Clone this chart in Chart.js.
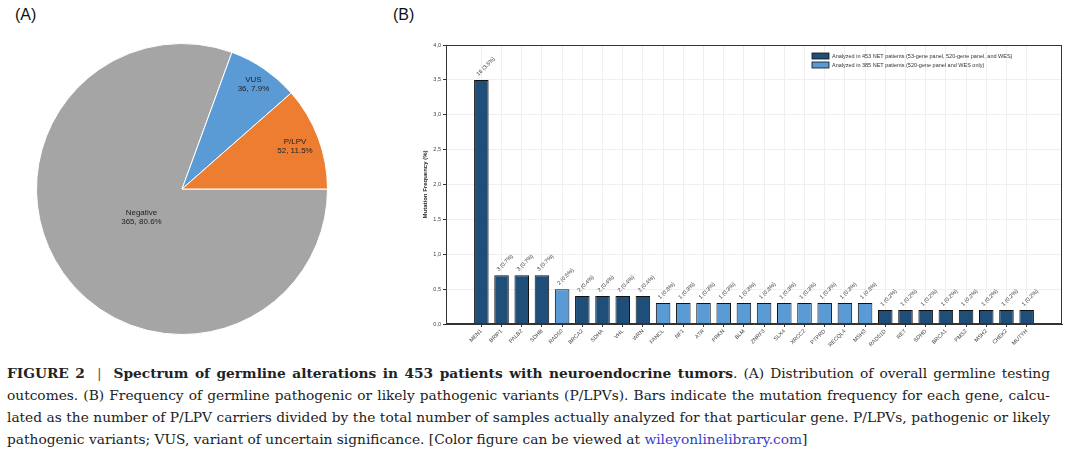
<!DOCTYPE html>
<html>
<head>
<meta charset="utf-8">
<script src="https://cdn.jsdelivr.net/npm/chart.js@4.4.1/dist/chart.umd.min.js"></script>
<style>
  body { margin: 0; width: 1080px; height: 463px; background: #fff; position: relative; overflow: hidden;
         font-family: Arial, "Liberation Sans", sans-serif; }
  .panel-label { position: absolute; font-size: 16px; color: #111; }
  #pieWrap { position: absolute; left: 36px; top: 43px; width: 292px; height: 292px; }
  #barWrap { position: absolute; left: 400px; top: 30px; width: 680px; height: 320px; }
  #caption { position: absolute; left: 7px; top: 362px; width: 1043px; color: #222;
             font-family: "DejaVu Serif", serif; font-size: 13.75px; line-height: 22px; }
  #caption .line { display: block; white-space: nowrap; text-align: justify; text-align-last: justify; }
  #caption .line.last { text-align: left; text-align-last: left; }
  #caption .pipe { display: inline-block; margin: 0 12px; font-weight: normal; color: #555; }
  #caption .link { color: #3340c8; }
</style>
</head>
<body>
<div class="panel-label" style="left:15px; top:6px;">(A)</div>
<div class="panel-label" style="left:393px; top:6px;">(B)</div>

<div id="pieWrap"><canvas id="pieChart" width="292" height="292"></canvas></div>
<div id="barWrap"><canvas id="barChart" width="680" height="320"></canvas></div>

<div id="caption">
  <span class="line"><b>FIGURE 2</b><span class="pipe">|</span><b>Spectrum of germline alterations in 453 patients with neuroendocrine tumors</b>. (A) Distribution of overall germline testing</span>
  <span class="line">outcomes. (B) Frequency of germline pathogenic or likely pathogenic variants (P/LPVs). Bars indicate the mutation frequency for each gene, calcu-</span>
  <span class="line">lated as the number of P/LPV carriers divided by the total number of samples actually analyzed for that particular gene. P/LPVs, pathogenic or likely</span>
  <span class="line last">pathogenic variants; VUS, variant of uncertain significance. [Color figure can be viewed at <span class="link">wileyonlinelibrary.com</span>]</span>
</div>

<script>
// (A) germline testing outcomes
const outcomeLabels = ['Negative', 'VUS', 'P/LPV'];
const outcomeCounts = [365, 36, 52];
const outcomePercents = [80.6, 7.9, 11.5];

// (B) P/LPV frequency per gene
const genes = ['MEN1', 'BRIP1', 'PALB2', 'SDHB', 'RAD50', 'BRCA2', 'SDHA', 'VHL', 'WRN',
  'FANCL', 'NF1', 'ATR', 'PRKN', 'BLM', 'ZNRF3', 'SLX4', 'XRCC2', 'PTPRD', 'RECQL4', 'MSH3',
  'RAD51D', 'RET', 'SDHD', 'BRCA1', 'PMS2', 'MSH2', 'CHEK2', 'MUTYH'];
const carrierCounts = [16, 3, 3, 3, 2, 2, 2, 2, 2,
  1, 1, 1, 1, 1, 1, 1, 1, 1, 1, 1,
  1, 1, 1, 1, 1, 1, 1, 1];
const frequencies = [3.5, 0.7, 0.7, 0.7, 0.5, 0.4, 0.4, 0.4, 0.4,
  0.3, 0.3, 0.3, 0.3, 0.3, 0.3, 0.3, 0.3, 0.3, 0.3, 0.3,
  0.2, 0.2, 0.2, 0.2, 0.2, 0.2, 0.2, 0.2];
const cohortSize = [453, 453, 453, 453, 385, 453, 453, 453, 453,
  385, 385, 385, 385, 385, 385, 385, 385, 385, 385, 385,
  453, 453, 453, 453, 453, 453, 453, 453];
const cohortLegend = [
  'Analyzed in 453 NET patients (53-gene panel, 520-gene panel, and WES)',
  'Analyzed in 385 NET patients (520-gene panel and WES only)'
];

const yMin = 0;
const yMax = 4;
const yStep = 0.5;

const pieColors = ['#a5a5a5', '#5b9bd5', '#ed7d31'];
const pieLabelRadius = [0.34, 0.87, 0.83];
const darkBlue = '#1f4e79';
const lightBlue = '#5b9bd5';

Chart.defaults.font.family = 'Arial, "Liberation Sans", sans-serif';

const pieLabels = {
  id: 'pieLabels',
  afterDatasetsDraw(chart) {
    const ctx = chart.ctx;
    const arcs = chart.getDatasetMeta(0).data;
    ctx.save();
    ctx.font = '8px Arial, "Liberation Sans", sans-serif';
    ctx.fillStyle = '#222';
    ctx.textAlign = 'center';
    ctx.textBaseline = 'middle';
    arcs.forEach((arc, i) => {
      const mid = (arc.startAngle + arc.endAngle) / 2;
      const r = arc.outerRadius * pieLabelRadius[i];
      const x = arc.x + Math.cos(mid) * r;
      const y = arc.y + Math.sin(mid) * r;
      ctx.fillText(outcomeLabels[i], x, y - 4.5);
      ctx.fillText(`${outcomeCounts[i]}, ${outcomePercents[i].toFixed(1)}%`, x, y + 4.5);
    });
    ctx.restore();
  }
};

new Chart(document.getElementById('pieChart').getContext('2d'), {
  type: 'pie',
  data: {
    labels: outcomeLabels,
    datasets: [{
      data: outcomeCounts,
      backgroundColor: pieColors,
      borderColor: '#ffffff',
      borderWidth: 1
    }]
  },
  options: {
    responsive: false,
    animation: false,
    rotation: 90,
    layout: { padding: 0 },
    plugins: {
      legend: { display: false },
      tooltip: { enabled: false }
    }
  },
  plugins: [pieLabels]
});

const barExtras = {
  id: 'barExtras',
  afterDatasetsDraw(chart) {
    const { ctx, chartArea } = chart;
    const bars = chart.getDatasetMeta(0).data;

    // value labels above bars
    ctx.save();
    ctx.font = '5.5px Arial, "Liberation Sans", sans-serif';
    ctx.fillStyle = '#333';
    ctx.textAlign = 'left';
    ctx.textBaseline = 'bottom';
    bars.forEach((bar, i) => {
      ctx.save();
      ctx.translate(bar.x - 2, bar.y - 3);
      ctx.rotate(-Math.PI / 4);
      ctx.fillText(`${carrierCounts[i]} (${frequencies[i].toFixed(1)}%)`, 0, 0);
      ctx.restore();
    });
    ctx.restore();

    // frame
    ctx.save();
    ctx.strokeStyle = '#333';
    ctx.lineWidth = 1;
    ctx.strokeRect(chartArea.left + 0.5, chartArea.top + 0.5, chartArea.width - 1, chartArea.height - 1);
    ctx.restore();

    // legend inside plot, top-right
    ctx.save();
    ctx.font = '5.5px Arial, "Liberation Sans", sans-serif';
    ctx.textBaseline = 'middle';
    ctx.textAlign = 'left';
    const lx = chartArea.right - 250;
    [darkBlue, lightBlue].forEach((color, i) => {
      const ly = chartArea.top + 11 + i * 9;
      ctx.fillStyle = color;
      ctx.fillRect(lx, ly - 3, 17, 6);
      ctx.strokeStyle = '#111';
      ctx.lineWidth = 0.8;
      ctx.strokeRect(lx, ly - 3, 17, 6);
      ctx.fillStyle = '#333';
      ctx.fillText(cohortLegend[i], lx + 20, ly);
    });
    ctx.restore();
  }
};

new Chart(document.getElementById('barChart').getContext('2d'), {
  type: 'bar',
  data: {
    datasets: [{
      data: frequencies.map((v, i) => ({ x: i, y: v })),
      backgroundColor: cohortSize.map(n => n === 453 ? darkBlue : lightBlue),
      borderColor: '#111',
      borderWidth: 1,
      categoryPercentage: 1,
      barPercentage: 0.72
    }]
  },
  options: {
    responsive: false,
    animation: false,
    layout: { padding: { left: 18, right: 18, top: 15, bottom: 0 } },
    plugins: {
      legend: { display: false },
      tooltip: { enabled: false }
    },
    scales: {
      x: {
        type: 'linear',
        offset: false,
        min: -1.75,
        max: genes.length - 1 + 1.75,
        afterBuildTicks: scale => { scale.ticks = genes.map((_, i) => ({ value: i })); },
        afterFit: scale => { scale.height = 26; },
        ticks: {
          autoSkip: false,
          maxRotation: 45,
          minRotation: 45,
          padding: 1,
          color: '#444',
          font: { size: 5.5 },
          callback: value => genes[value] ?? ''
        },
        grid: { offset: false, color: '#efefef', tickLength: 3, tickColor: '#333' },
        border: { color: '#333' }
      },
      y: {
        min: yMin,
        max: yMax,
        afterFit: scale => { scale.width = 28; },
        ticks: {
          stepSize: yStep,
          padding: 2,
          color: '#444',
          font: { size: 5.5 },
          callback: value => value.toFixed(1).replace('.', ',')
        },
        grid: { color: '#efefef', tickLength: 3, tickColor: '#333' },
        border: { color: '#333' },
        title: {
          display: true,
          text: 'Mutation Frequency (%)',
          color: '#222',
          font: { size: 6, weight: 'bold' }
        }
      }
    }
  },
  plugins: [barExtras]
});
</script>
</body>
</html>
